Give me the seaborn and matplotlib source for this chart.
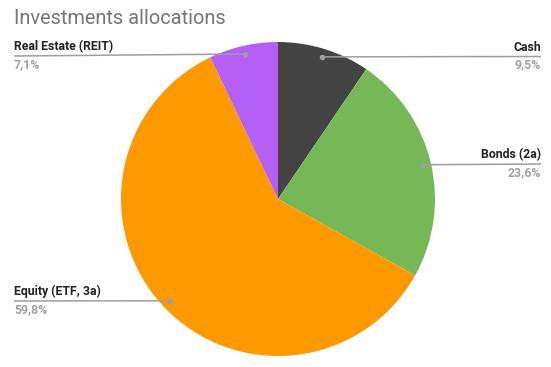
import matplotlib
matplotlib.use('Agg')
import matplotlib.pyplot as plt
import seaborn as sns
import numpy as np

sns.set_style('white')
plt.rcParams['font.family'] = ['Roboto', 'DejaVu Sans']

# data
categories = ['Cash', 'Bonds (2a)', 'Equity (ETF, 3a)', 'Real Estate (REIT)']
values = [9.5, 23.6, 59.8, 7.1]
colors = ['#434343', '#76b857', '#ff9900', '#b45ff5']
title = 'Investments allocations'

# layout (pixel coords, y from top)
W, H = 551, 367
label_y = [56.5, 164, 301, 56]
cx, cy, R = 278, H - 199, 157

fig = plt.figure(figsize=(W / 100, H / 100), dpi=100)
ax = fig.add_axes([0, 0, 1, 1])
wedges, _ = ax.pie(values, colors=colors, startangle=90, counterclock=False,
                   center=(cx, cy), radius=R, wedgeprops=dict(linewidth=0))
ax.set_xlim(0, W)
ax.set_ylim(0, H)
ax.set_aspect('equal')
ax.axis('off')

total = sum(values)
for w, cat, v, ly in zip(wedges, categories, values, label_y):
    th = np.deg2rad((w.theta1 + w.theta2) / 2)
    dx, dy = cx + 0.947 * R * np.cos(th), cy + 0.947 * R * np.sin(th)
    y = H - ly
    right = np.cos(th) > 0
    ex = 541 if right else 14
    ha = 'right' if right else 'left'
    ax.plot([dx, ex], [dy, y], color='#9e9e9e', lw=1.1, solid_capstyle='butt')
    ax.plot([dx], [dy], 'o', ms=4, color='#9e9e9e', mec='none')
    ax.text(ex, y + 2.5, cat, ha=ha, va='bottom', fontsize=8.8,
            fontweight='bold', color='#222222')
    pct = f"{v / total * 100:.1f}%".replace('.', ',')
    ax.text(ex, y - 2, pct, ha=ha, va='top', fontsize=8.8,
            fontweight='bold', color='#a0a0a0')

fig.text(14 / W, 1 - 18 / H, title, fontsize=14.4, color='#757575',
         ha='left', va='center')

fig.savefig('out.png', dpi=100)
